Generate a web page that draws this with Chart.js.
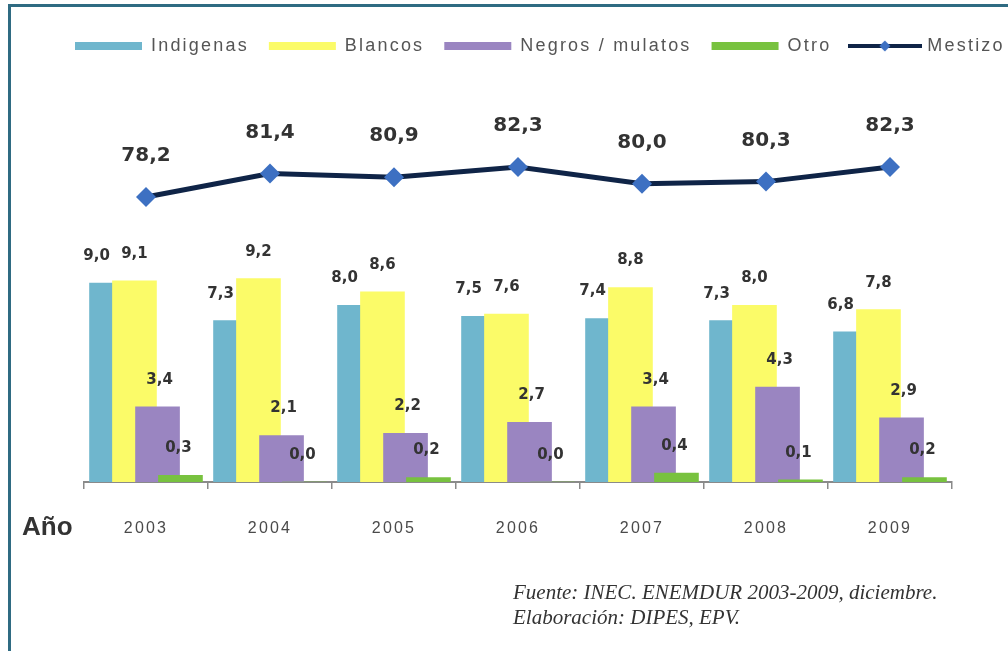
<!DOCTYPE html>
<html>
<head>
<meta charset="utf-8">
<script src="https://cdn.jsdelivr.net/npm/chart.js@4.4.1/dist/chart.umd.min.js"></script>
<style>
  html, body { margin: 0; padding: 0; background: #fff; overflow: hidden; width: 1008px; height: 651px; }
  #wrap { position: relative; width: 1008px; height: 651px; overflow: hidden; }
  #chart { position: absolute; left: 0; top: 0; }
  #frame { position: absolute; left: 8px; top: 4px; width: 1100px; height: 700px;
           border-left: 3px solid #2f6b82; border-top: 3px solid #2f6b82; pointer-events: none; }
  .note { position: absolute; left: 513px; top: 580px; font-family: 'Liberation Serif', serif;
          font-style: italic; font-size: 21px; line-height: 25px; color: #333; }
</style>
</head>
<body>
<div id="wrap">
  <canvas id="chart" width="1040" height="651"></canvas>
  <div id="frame"></div>
  <div class="note">Fuente: INEC. ENEMDUR 2003-2009, diciembre.<br>Elaboración: DIPES, EPV.</div>
</div>
<script>
// Population shares by self-identified ethnicity (%)
const years     = ['2003', '2004', '2005', '2006', '2007', '2008', '2009'];
const indigenas = [9.0, 7.3, 8.0, 7.5, 7.4, 7.3, 6.8];
const blancos   = [9.1, 9.2, 8.6, 7.6, 8.8, 8.0, 7.8];
const negros    = [3.4, 2.1, 2.2, 2.7, 3.4, 4.3, 2.9];
const otro      = [0.3, 0.0, 0.2, 0.0, 0.4, 0.1, 0.2];
const mestizo   = [78.2, 81.4, 80.9, 82.3, 80.0, 80.3, 82.3];
const seriesNames = ['Indigenas', 'Blancos', 'Negros / mulatos', 'Otro', 'Mestizo'];
const axisTitle = 'Año';

const NAVY = '#0f2447';
const BLUE = '#3d70c2';
const TRACKING = '2.2px';

// overlapping bar columns: shift of each series inside a year slot (in category units)
const shifts = [-0.278, -0.093, 0.093, 0.278];

const fmt = v => v.toFixed(1).replace('.', ',');

function barSeries(label, values, k, color, order, labelDx) {
  return {
    type: 'bar',
    label,
    data: values.map((v, i) => ({ x: i + shifts[k], y: v })),
    backgroundColor: color,
    borderWidth: 0,
    grouped: false,
    barThickness: 44,
    yAxisID: 'y',
    order,
    labelDx,
    labelDy: -27,
    labelFont: 'bold 15px "DejaVu Sans"'
  };
}

// legend symbol for the line series: thick line with a diamond
function lineSymbol() {
  const c = document.createElement('canvas');
  c.width = 74; c.height = 14;
  const g = c.getContext('2d');
  g.strokeStyle = NAVY; g.lineWidth = 4;
  g.beginPath(); g.moveTo(0, 7); g.lineTo(74, 7); g.stroke();
  g.fillStyle = BLUE;
  g.beginPath(); g.moveTo(37, 1.5); g.lineTo(42.5, 7); g.lineTo(37, 12.5); g.lineTo(31.5, 7); g.closePath(); g.fill();
  return c;
}
const legendLine = lineSymbol();

const tracking = {
  id: 'tracking',
  beforeLayout(chart) { chart.ctx.letterSpacing = TRACKING; },
  beforeDraw(chart) { chart.ctx.letterSpacing = TRACKING; }
};

const valueLabels = {
  id: 'valueLabels',
  afterDatasetsDraw(chart) {
    const ctx = chart.ctx;
    ctx.save();
    ctx.letterSpacing = '0px';
    ctx.textAlign = 'center';
    ctx.textBaseline = 'middle';
    ctx.fillStyle = '#333';
    chart.data.datasets.forEach((ds, di) => {
      const meta = chart.getDatasetMeta(di);
      ctx.font = ds.labelFont;
      meta.data.forEach((el, i) => {
        ctx.fillText(fmt(ds.data[i].y), el.x + ds.labelDx, el.y + ds.labelDy);
      });
    });
    ctx.restore();
  },
  afterDraw(chart) {
    const ctx = chart.ctx;
    const xs = chart.scales.x;
    ctx.save();
    ctx.letterSpacing = '0px';
    ctx.font = 'bold 26px "Liberation Sans"';
    ctx.fillStyle = '#333';
    ctx.textAlign = 'left';
    ctx.textBaseline = 'middle';
    ctx.fillText(axisTitle, chart.chartArea.left - 62, xs.top + 46);
    ctx.restore();
  }
};

new Chart(document.getElementById('chart'), {
  type: 'bar',
  data: {
    datasets: [
      barSeries(seriesNames[0], indigenas, 0, '#6fb6cd', 4, -15),
      barSeries(seriesNames[1], blancos,   1, '#fbfb68', 3, 0),
      barSeries(seriesNames[2], negros,    2, '#9a85c1', 2, 2),
      barSeries(seriesNames[3], otro,      3, '#78c23f', 1, -2),
      {
        type: 'line',
        label: seriesNames[4],
        data: mestizo.map((v, i) => ({ x: i, y: v })),
        yAxisID: 'y2',
        borderColor: NAVY,
        backgroundColor: BLUE,
        borderWidth: 5,
        tension: 0,
        pointStyle: 'rectRot',
        pointRadius: 10,
        pointBackgroundColor: BLUE,
        pointBorderColor: BLUE,
        pointBorderWidth: 0,
        order: 0,
        labelDx: 0,
        labelDy: -41,
        labelFont: 'bold 20px "DejaVu Sans"'
      }
    ]
  },
  options: {
    responsive: false,
    animation: false,
    layout: { padding: { left: 55, right: 0, top: 17, bottom: 109 } },
    plugins: {
      tooltip: { enabled: false },
      legend: {
        position: 'top',
        align: 'start',
        labels: {
          font: { family: 'Liberation Sans', size: 18 },
          color: '#555',
          usePointStyle: true,
          pointStyleWidth: 67,
          boxWidth: 67,
          boxHeight: 8,
          padding: 20,
          generateLabels(chart) {
            const items = Chart.defaults.plugins.legend.labels.generateLabels(chart);
            items.sort((a, b) => a.datasetIndex - b.datasetIndex);
            items.forEach(it => {
              const ds = chart.data.datasets[it.datasetIndex];
              it.pointStyle = ds.type === 'line' ? legendLine : 'rect';
              it.fillStyle = ds.type === 'line' ? BLUE : ds.backgroundColor;
              it.lineWidth = 0;
              it.strokeStyle = 'rgba(0,0,0,0)';
            });
            return items;
          }
        }
      }
    },
    scales: {
      x: {
        type: 'linear',
        min: -0.5,
        max: 6.5,
        offset: false,
        afterBuildTicks(s) { s.ticks = years.map((_, i) => ({ value: i })); },
        afterFit(s) { s.height = 60; },
        ticks: {
          autoSkip: false,
          maxRotation: 0,
          padding: 30,
          color: '#4a4a4a',
          font: { family: 'Liberation Sans', size: 16 },
          callback: v => years[v] ?? ''
        },
        grid: { display: true, offset: true, drawOnChartArea: false, drawTicks: true,
                tickLength: 7, color: '#8a8a8a', lineWidth: 1.5 },
        border: { display: true, color: '#8a8a8a', width: 2 }
      },
      y: {
        position: 'left',
        min: 0,
        max: 18.87,
        ticks: { display: false },
        grid: { display: false },
        border: { display: false },
        afterFit(s) { s.width = 29; }
      },
      y2: {
        position: 'right',
        min: 39.27,
        max: 96.23,
        ticks: { display: false },
        grid: { display: false },
        border: { display: false },
        afterFit(s) { s.width = 88; }
      }
    }
  },
  plugins: [tracking, valueLabels]
});
</script>
</body>
</html>
